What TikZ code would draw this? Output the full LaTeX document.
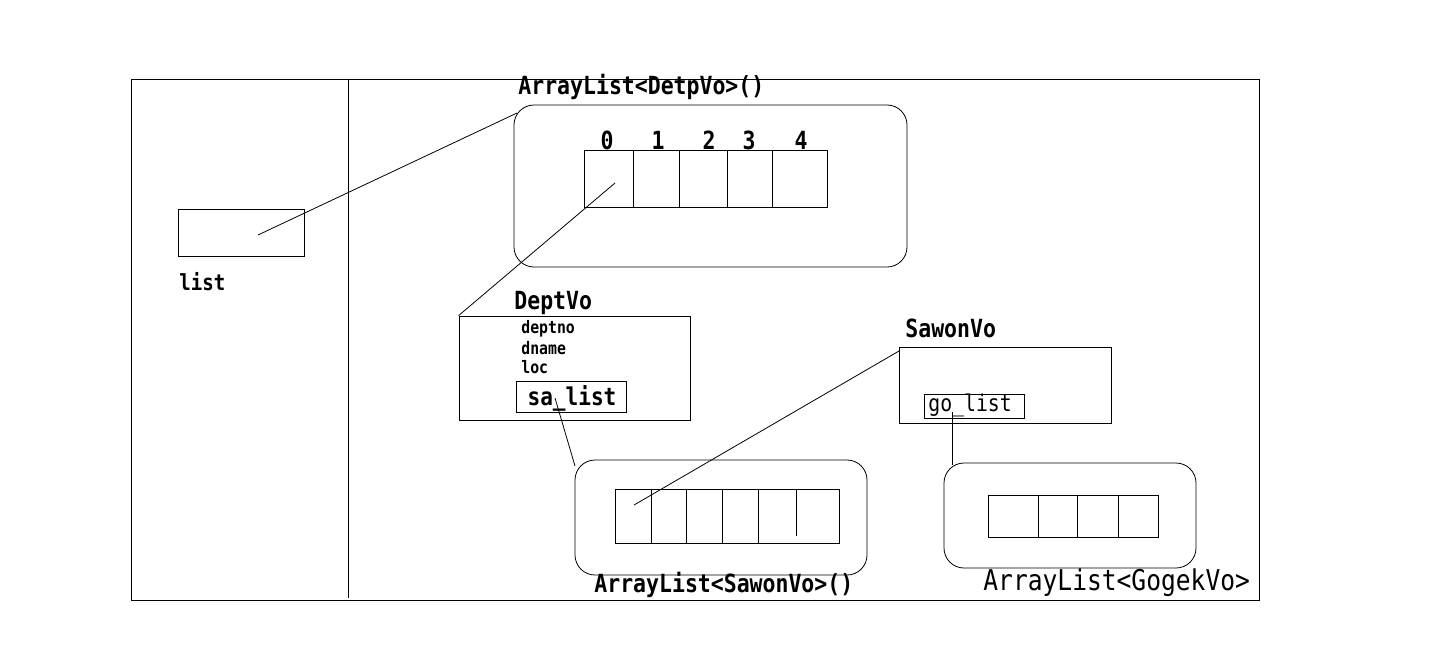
\documentclass[tikz,border=0pt]{standalone}
\usepackage{fontspec}
\newfontfamily\gulim[FakeStretch=0.86]{DejaVu Sans Mono}
\begin{document}
\begin{tikzpicture}[x=1pt,y=-1pt,line width=0.8pt,
  box/.style={draw,rectangle,inner sep=0pt},
  rbox/.style={draw,rectangle,rounded corners=20pt,inner sep=0pt},
  lbl/.style={inner sep=0pt,anchor=west,font=\gulim\bfseries\fontsize{25}{28}\selectfont},
  thin/.style={inner sep=0pt,anchor=west,font=\gulim\fontsize{23}{26}\selectfont},
  small/.style={inner sep=0pt,anchor=west,font=\gulim\bfseries\fontsize{17.2}{20}\selectfont}]
\useasboundingbox (0,0) rectangle (1439,645);
  % frame and divider
  \node[box,minimum width=1128,minimum height=521] (frame) at (695,339.5) {};
  \draw (348,79) -- (348,598);
  % list reference
  \node[box,minimum width=126,minimum height=47] (listbox) at (241,232.5) {};
  \node[lbl,font=\gulim\bfseries\fontsize{22.2}{26}\selectfont] (listlbl) at (179,282) {list};
  \coordinate (listptr) at (258,235);
  % ArrayList<DetpVo>
  \node[rbox,minimum width=393,minimum height=162] (deptlist) at (710.5,186) {};
  \node[lbl] (deptlistlbl) at (518,87) {ArrayList<DetpVo>()};
  \coordinate (deptlistc) at (517,113);
  \node[box,minimum width=243,minimum height=57] (deptarr) at (705.5,178.5) {};
  \foreach \x in {633,679,727,772} \draw (\x,150) -- (\x,207);
  \foreach \i/\x in {0/607,1/658,2/709,3/749,4/801}
    \node[inner sep=0pt,font=\gulim\bfseries\fontsize{25}{28}\selectfont] (idx\i) at (\x,140) {\i};
  \coordinate (deptptr) at (615,183);
  % DeptVo
  \node[box,minimum width=231,minimum height=104] (deptvo) at (574.5,368) {};
  \node[lbl] (deptvolbl) at (514,303) {DeptVo};
  \node[small] (deptno) at (521,329) {deptno};
  \node[small] (dname) at (521,348) {dname};
  \node[small] (loc) at (521,367) {loc};
  \node[box,minimum width=110,minimum height=31] (salist) at (571,396.5) {};
  \node[inner sep=0pt,font=\gulim\bfseries\fontsize{24.5}{28}\selectfont] (salistlbl) at (572,398) {sa\_list};
  \coordinate (saptr) at (555,398);
  % ArrayList<SawonVo>
  \node[rbox,minimum width=292,minimum height=115] (salistbox) at (721,517.5) {};
  \coordinate (salistc) at (575,466);
  \node[box,minimum width=224,minimum height=54] (saarr) at (727,516) {};
  \foreach \x in {651,686,722,758} \draw (\x,489) -- (\x,543);
  \draw (796,489) -- (796,536);
  \node[lbl] (salistlbl2) at (594,585) {ArrayList<SawonVo>()};
  \coordinate (saarrptr) at (634,505);
  % SawonVo
  \node[box,minimum width=212,minimum height=76] (sawonvo) at (1005,385) {};
  \node[lbl] (sawonvolbl) at (905,328) {SawonVo};
  \coordinate (sawonc) at (899,351);
  \node[box,minimum width=100,minimum height=24] (golist) at (974,406) {};
  \node[thin] (golistlbl) at (928,405) {go\_list};
  \coordinate (goptr) at (952,412);
  % ArrayList<GogekVo>
  \node[rbox,minimum width=252,minimum height=105] (golistbox) at (1070,515.5) {};
  \coordinate (golistc) at (952,465);
  \node[box,minimum width=170,minimum height=42] (goarr) at (1073,516) {};
  \foreach \x in {1038,1077,1118} \draw (\x,495) -- (\x,537);
  \node[thin,font=\gulim\fontsize{28.6}{32}\selectfont] (golistlbl2) at (983,583) {ArrayList<GogekVo>};
  % references
  \draw (listptr) -- (deptlistc);
  \draw (deptptr) -- (deptvo.north west);
  \draw (saptr) -- (salistc);
  \draw (saarrptr) -- (sawonc);
  \draw (goptr) -- (golistc);
\end{tikzpicture}
\end{document}
